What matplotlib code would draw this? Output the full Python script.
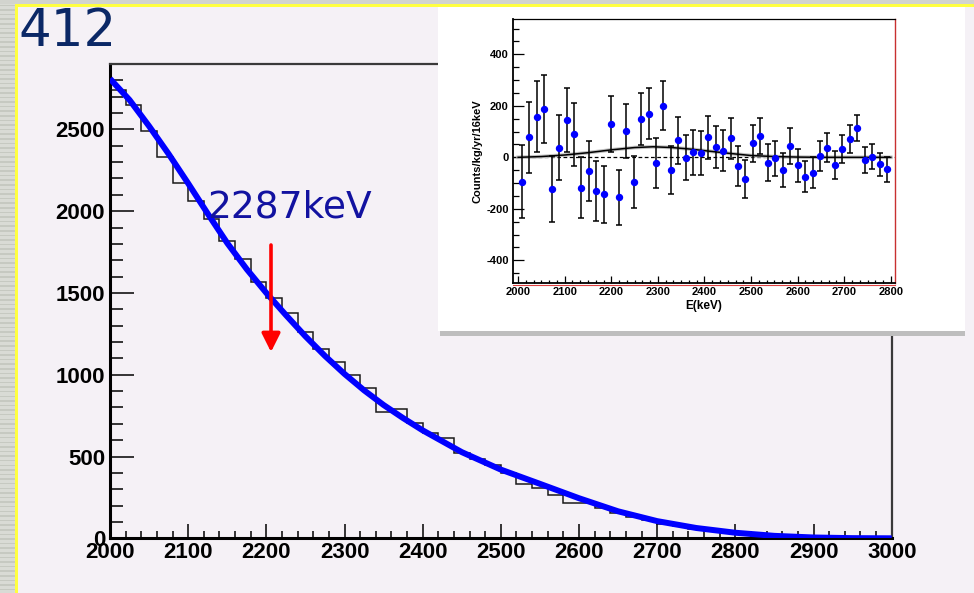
"""
2000-3000 keV background spectrum with fitted curve, and the residual
spectrum (data minus background) shown in an inset panel.
"""

import matplotlib
matplotlib.use('Agg')
import matplotlib.pyplot as plt
from matplotlib.patches import Rectangle
from matplotlib.ticker import MultipleLocator
from matplotlib.transforms import ScaledTranslation
import numpy as np

plt.rcParams['font.family'] = ['Liberation Sans', 'DejaVu Sans']
plt.rcParams['axes.unicode_minus'] = False

# ---- main spectrum: 20 keV bins from 2000 to 3000 keV ----
bin_edges = np.arange(2000, 3001, 20)
hist_counts = [
    2740, 2650, 2490, 2330, 2170, 2060, 1950, 1815, 1705, 1570,
    1470, 1375, 1264, 1160, 1075, 1000, 918, 775, 790, 704,
    643, 612, 520, 485, 449, 398, 332, 306, 262, 214,
    218, 184, 157, 128, 112, 90, 78, 58, 50, 36,
    30, 17, 12, 8, 5, 3, 2, 1, 0, 0,
]

# fitted background curve
fit_energy = [2000, 2025, 2050, 2075, 2100, 2125, 2150, 2175, 2200, 2225,
              2250, 2275, 2300, 2325, 2350, 2375, 2400, 2450, 2500, 2550,
              2600, 2650, 2700, 2750, 2800, 2850, 2900, 2950, 3000]
fit_counts = [2810, 2680, 2520, 2350, 2170, 1985, 1805, 1645, 1500, 1365,
              1235, 1115, 1005, 905, 815, 735, 660, 527, 420, 333,
              245, 165, 105, 63, 34, 15, 5, 1, 0]

# ---- residual spectrum, 16 keV bins (counts/kg/yr/16keV) ----
res_energy = [2008 + 16 * i for i in range(50)]
res_value = [
    -94, 78, 158, 188, -123, 38, 145, 89, -118, -53,
    -131, -144, 129, -155, 104, -94, 148, 170, -21, 200,
    -49, 66, -1, 19, 18, 78, 39, 25, 74, -34,
    -84, 54, 84, -21, -4, -49, 44, -31, -75, -60,
    6, 38, -30, 31, 71, 113, -10, 3, -27, -47,
]
res_error = [
    141, 138, 138, 133, 128, 125, 124, 121, 118, 116,
    115, 112, 110, 106, 105, 101, 102, 100, 97, 95,
    93, 90, 88, 86, 85, 83, 81, 80, 79, 77,
    75, 73, 70, 71, 67, 67, 68, 63, 61, 61,
    58, 58, 56, 54, 53, 50, 50, 50, 45, 47,
]

# gaussian peak fit on the residuals
peak_energy = [2000, 2050, 2100, 2150, 2200, 2250, 2290, 2330, 2370, 2400,
               2450, 2500, 2550, 2600, 2650, 2800]
peak_value = [0, 3, 9, 18, 29, 38, 41, 38, 32, 26, 16, 7, 3, 1, 0, 0]

W, H = 974, 593
BG = '#F5F1F6'


def fx(px):
    return px / W


def fy(py):
    # pixel row measured from the top -> figure fraction
    return (H - py) / H


def draw_frame(fig):
    """slide decoration: striped left strip, yellow rules"""
    fig.add_artist(Rectangle((0, 0), fx(15), 1, transform=fig.transFigure,
                             color='#D9DBD5', lw=0, zorder=1))
    for row in np.arange(0, H, 4.6):
        fig.add_artist(Rectangle((0, fy(row + 1.5)), fx(15), 1.5 / H,
                                 transform=fig.transFigure,
                                 color='#C6C9C1', lw=0, zorder=1))
    fig.add_artist(Rectangle((0, fy(3.5)), 1, 3.5 / H, transform=fig.transFigure,
                             color='#D2D4CE', lw=0, zorder=1))
    fig.add_artist(Rectangle((fx(15), fy(7)), 1, 3 / H, transform=fig.transFigure,
                             color='#FFFF40', lw=0, zorder=2))
    fig.add_artist(Rectangle((fx(15), 0), 2.5 / W, fy(4), transform=fig.transFigure,
                             color='#FFFF40', lw=0, zorder=2))


def draw_main(fig):
    ax = fig.add_axes([fx(110), fy(538.3), fx(891.7) - fx(110), fy(64) - fy(538.3)])
    ax.set_facecolor(BG)

    ax.stairs(hist_counts, bin_edges, color='#1a1a1a', lw=1.1)
    ax.plot(fit_energy, fit_counts, color='#0000FF', lw=4.3,
            solid_capstyle='butt', zorder=3)

    ax.set_xlim(2000, 3000)
    ax.set_ylim(0, 2900)
    ax.xaxis.set_major_locator(MultipleLocator(100))
    ax.xaxis.set_minor_locator(MultipleLocator(20))
    ax.yaxis.set_major_locator(MultipleLocator(500))
    ax.yaxis.set_minor_locator(MultipleLocator(100))
    ax.tick_params(axis='x', which='major', direction='in', length=10, width=1.1,
                   labelsize=16, pad=3)
    ax.tick_params(axis='x', which='minor', direction='in', length=5, width=1.1)
    ax.tick_params(axis='y', which='major', direction='in', length=17, width=1.1,
                   labelsize=16, pad=3.5)
    ax.tick_params(axis='y', which='minor', direction='in', length=9, width=1.1)
    plt.setp(ax.get_xticklabels() + ax.get_yticklabels(), fontweight='bold')

    # lift the "0" label a little off the x labels
    zero_label = ax.yaxis.get_major_ticks()[0].label1
    zero_label.set_transform(zero_label.get_transform()
                             + ScaledTranslation(0, 3 / 72, fig.dpi_scale_trans))

    for side in ['left', 'bottom']:
        ax.spines[side].set_linewidth(2.2)
        ax.spines[side].set_color('black')
    for side in ['top', 'right']:
        ax.spines[side].set_linewidth(1.6)
        ax.spines[side].set_color('#3a3a3a')

    # marker for the signal region
    ax.annotate('', xy=(fx(271), fy(352)), xytext=(fx(271), fy(245)),
                xycoords='figure fraction', textcoords='figure fraction',
                arrowprops=dict(arrowstyle='-|>,head_width=0.4,head_length=0.8',
                                color='#FF0000', lw=2.6, mutation_scale=14,
                                shrinkA=0, shrinkB=0))
    return ax


def draw_inset(fig):
    # white panel with a grey drop shadow
    fig.add_artist(Rectangle((fx(440), fy(336)), fx(965) - fx(440), 5 / H,
                             transform=fig.transFigure, color='#BEBEBE', lw=0,
                             zorder=2))
    fig.add_artist(Rectangle((fx(438), fy(331)), fx(965) - fx(438), 324 / H,
                             transform=fig.transFigure, color='white', lw=0,
                             zorder=2))

    ax = fig.add_axes([fx(513), fy(283), fx(895) - fx(513), fy(19.3) - fy(283)],
                      zorder=5)
    ax.set_facecolor('white')

    ax.axhline(0, color='black', lw=0.9, ls=(0, (3, 2)), zorder=2)
    ax.plot(peak_energy, peak_value, color='#C0C0C0', lw=2.6, zorder=2)
    ax.plot(peak_energy, peak_value, color='black', lw=1.1, zorder=3)
    ax.errorbar(res_energy, res_value, yerr=res_error, fmt='o', ms=4.3,
                mfc='#0000FF', mec='#0000FF', ecolor='black', elinewidth=1.1,
                capsize=2.2, capthick=1.1, zorder=4)

    ax.set_xlim(1989, 2809)
    ax.set_ylim(-488, 536)
    ax.xaxis.set_major_locator(MultipleLocator(100))
    ax.xaxis.set_minor_locator(MultipleLocator(100 / 6))
    ax.yaxis.set_major_locator(MultipleLocator(200))
    ax.yaxis.set_minor_locator(MultipleLocator(50))
    ax.tick_params(axis='x', which='major', direction='in', length=5, width=0.9,
                   labelsize=8, pad=3)
    ax.tick_params(axis='x', which='minor', direction='in', length=2.5, width=0.9)
    ax.tick_params(axis='y', which='major', direction='in', length=8, width=0.9,
                   labelsize=8, pad=3)
    ax.tick_params(axis='y', which='minor', direction='in', length=4.3, width=0.9)
    plt.setp(ax.get_xticklabels() + ax.get_yticklabels(), fontweight='bold')

    ax.set_xlabel('E(keV)', fontsize=8.5, fontweight='bold', labelpad=2)
    ax.set_ylabel('Counts/kg/yr/16keV', fontsize=8, fontweight='bold', labelpad=3)

    ax.spines['left'].set_linewidth(1.3)
    ax.spines['top'].set_linewidth(0.9)
    ax.spines['bottom'].set_linewidth(1.3)
    ax.spines['right'].set_linewidth(1.0)
    ax.spines['right'].set_color('#C83030')
    ax.plot([0, 1], [-0.006, -0.006], transform=ax.transAxes, color='#E04040',
            lw=0.8, clip_on=False)
    return ax


def main():
    fig = plt.figure(figsize=(W / 100, H / 100), dpi=100)
    fig.patch.set_facecolor(BG)

    draw_frame(fig)
    draw_main(fig)
    draw_inset(fig)

    fig.text(fx(18), fy(46), '412', fontsize=37, color='#0B2866',
             family='DejaVu Sans', va='baseline', ha='left')
    fig.text(fx(207), fy(217), '2287keV', fontsize=27, color='#1212A0',
             family='DejaVu Sans', va='baseline', ha='left')

    fig.savefig('out.png', dpi=100, facecolor=fig.get_facecolor())
    plt.close(fig)


if __name__ == '__main__':
    main()
